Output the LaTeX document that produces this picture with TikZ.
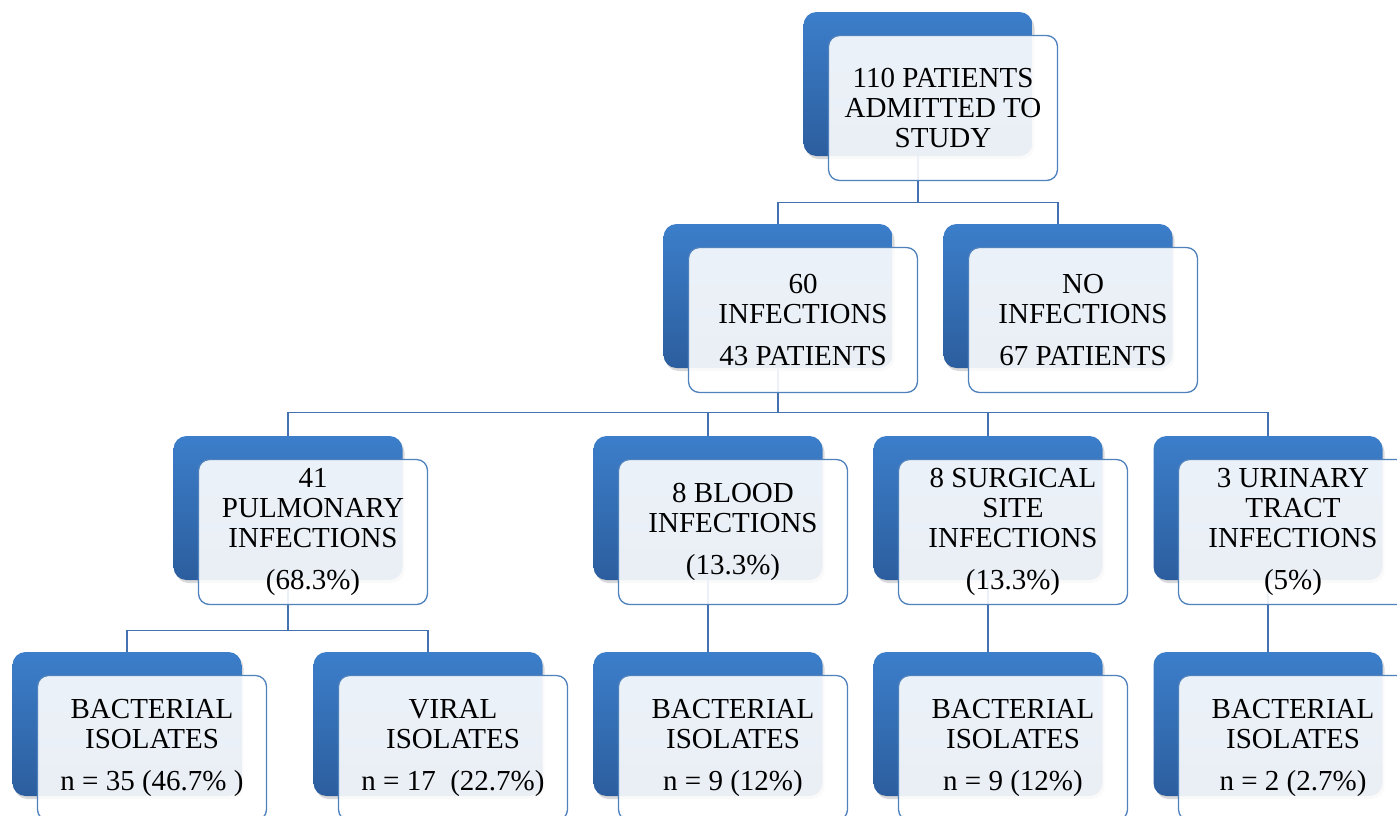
\documentclass[tikz,border=0pt]{standalone}
\usepackage{fontspec}
\setmainfont{Liberation Serif}
\usepackage{tikz}
\usetikzlibrary{shadows}
\definecolor{boxtop}{RGB}{60,126,202}
\definecolor{boxbot}{RGB}{44,94,158}
\definecolor{boxline}{RGB}{79,129,189}
\definecolor{linkblue}{RGB}{68,114,176}

\begin{document}
\begin{tikzpicture}[x=1pt,y=-1pt,
  backbox/.style={rectangle,rounded corners=13pt,minimum width=229pt,minimum height=144pt,inner sep=0pt,
    top color=boxtop,bottom color=boxbot,drop shadow={opacity=0.3,shadow xshift=2pt,shadow yshift=-3pt}},
  frontbox/.style={rectangle,rounded corners=11pt,minimum width=229pt,minimum height=145pt,inner sep=0pt,
    draw=boxline,line width=1.3pt,fill=white,fill opacity=0.9,text opacity=1,align=center,
    font=\fontsize{29}{30}\selectfont,xshift=25pt,yshift=-24pt},
  link/.style={draw=linkblue,line width=1.3pt}]
  \useasboundingbox (0,0) rectangle (1397,815);
  \clip (0,0) rectangle (1397,815);
  % dark back plates
  \foreach \n/\x/\y in {top/918/84, inf/778/296, noinf/1058/296,
      pulm/288/508, blood/708/508, surg/988/508, uti/1268/508,
      bacpulm/127/724, virpulm/428/724, bacblood/708/724, bacsurg/988/724, bacuti/1268/724}
    \node[backbox] (\n-b) at (\x,\y) {};
  % tree lines
  \foreach \p/\c/\d in {top/inf/46, top/noinf/46, inf/pulm/44, inf/blood/44, inf/surg/44, inf/uti/44,
      pulm/bacpulm/50, pulm/virpulm/50, blood/bacblood/50, surg/bacsurg/50, uti/bacuti/50}
    \draw[link] (\p-b.south) -- ++(0,\d) -| (\c-b.north);
  % text boxes
  \node[frontbox] (top) at (top-b) {110 PATIENTS\\ADMITTED TO\\STUDY};
  \node[frontbox] (inf) at (inf-b) {60\\INFECTIONS\\[12pt]43 PATIENTS};
  \node[frontbox] (noinf) at (noinf-b) {NO\\INFECTIONS\\[12pt]67 PATIENTS};
  \node[frontbox] (pulm) at (pulm-b) {41\\PULMONARY\\INFECTIONS\\[12pt](68.3\%)};
  \node[frontbox] (blood) at (blood-b) {8 BLOOD\\INFECTIONS\\[12pt](13.3\%)};
  \node[frontbox] (surg) at (surg-b) {8 SURGICAL\\SITE\\INFECTIONS\\[12pt](13.3\%)};
  \node[frontbox] (uti) at (uti-b) {3 URINARY\\TRACT\\INFECTIONS\\[12pt](5\%)};
  \node[frontbox] (bacpulm) at (bacpulm-b) {BACTERIAL\\ISOLATES\\[12pt]n = 35 (46.7\% )};
  \node[frontbox] (virpulm) at (virpulm-b) {VIRAL\\ISOLATES\\[12pt]n = 17~~(22.7\%)};
  \node[frontbox] (bacblood) at (bacblood-b) {BACTERIAL\\ISOLATES\\[12pt]n = 9 (12\%)};
  \node[frontbox] (bacsurg) at (bacsurg-b) {BACTERIAL\\ISOLATES\\[12pt]n = 9 (12\%)};
  \node[frontbox] (bacuti) at (bacuti-b) {BACTERIAL\\ISOLATES\\[12pt]n = 2 (2.7\%)};
\end{tikzpicture}
\end{document}
